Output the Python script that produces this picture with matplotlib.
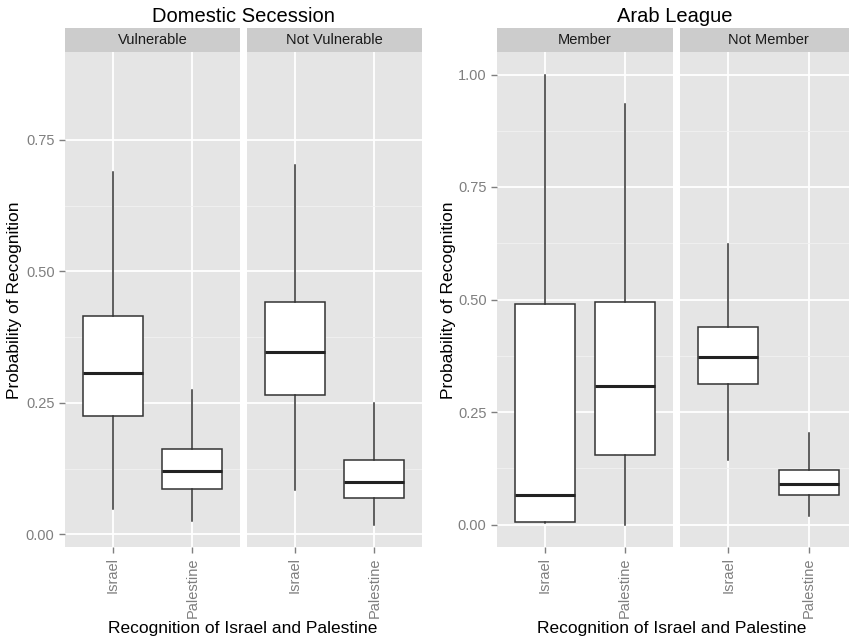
import matplotlib.pyplot as plt
import numpy as np

plt.rcParams['font.family'] = ['Liberation Sans', 'DejaVu Sans']

categories = ["Israel", "Palestine"]

# five-number summaries: whisker low, q1, median, q3, whisker high
dom_vulnerable = [[0.048, 0.225, 0.307, 0.416, 0.688],
                  [0.026, 0.087, 0.120, 0.162, 0.274]]
dom_not_vulnerable = [[0.084, 0.265, 0.347, 0.442, 0.703],
                      [0.018, 0.069, 0.100, 0.141, 0.250]]
arab_member = [[0.003, 0.006, 0.066, 0.489, 1.000],
               [0.000, 0.154, 0.307, 0.495, 0.935]]
arab_not_member = [[0.143, 0.312, 0.372, 0.438, 0.623],
                   [0.018, 0.066, 0.091, 0.122, 0.203]]

W, H = 849, 639
top, bot = 52, 547
strip_h = 24

fig = plt.figure(figsize=(W / 100, H / 100), dpi=100)

def px_axes(x0, x1, y0, y1):
    return fig.add_axes([x0 / W, 1 - y1 / H, (x1 - x0) / W, (y1 - y0) / H])

def draw_facet(ax, stats, strip, ylim, yticks, show_y):
    ax.set_facecolor("#e5e5e5")
    for s in ax.spines.values():
        s.set_visible(False)
    bxp = []
    for lo, q1, med, q3, hi in stats:
        bxp.append(dict(whislo=lo, q1=q1, med=med, q3=q3, whishi=hi, fliers=[]))
    ax.bxp(bxp, positions=[1, 2], widths=0.75, patch_artist=True, showcaps=False,
           boxprops=dict(facecolor="white", edgecolor="#333333", linewidth=1.1),
           medianprops=dict(color="#222222", linewidth=2.2),
           whiskerprops=dict(color="#333333", linewidth=1.1), zorder=3)
    ax.set_xlim(0.4, 2.6)
    ax.set_ylim(*ylim)
    minor = [(a + b) / 2 for a, b in zip(yticks[:-1], yticks[1:])]
    ax.set_yticks(yticks)
    ax.set_yticks(minor, minor=True)
    ax.grid(True, which="major", color="white", linewidth=1.3)
    ax.grid(True, which="minor", axis="y", color="#f2f2f2", linewidth=0.6)
    ax.set_axisbelow(True)
    ax.set_xticks([1, 2])
    ax.set_xticklabels(categories, rotation=90, color="#7f7f7f", fontsize=10.5)
    ax.tick_params(axis="both", which="major", length=4, color="#7f7f7f", width=1)
    ax.tick_params(axis="y", which="minor", length=0)
    if show_y:
        ax.set_yticklabels([f"{t:.2f}" for t in yticks], color="#7f7f7f", fontsize=10.5)
    else:
        ax.tick_params(axis="y", which="major", length=0, labelleft=False)
    sh = strip_h / (bot - top)
    ax.add_patch(plt.Rectangle((0, 1.0), 1, sh, transform=ax.transAxes,
                               facecolor="#cccccc", edgecolor="none", clip_on=False, zorder=0))
    ax.text(0.5, 1.0 + sh / 2, strip, transform=ax.transAxes, ha="center", va="center",
            fontsize=10.5, color="#1a1a1a")

ticks_l = [0.0, 0.25, 0.5, 0.75]
ylim_l = (-0.024, 0.917)
ticks_r = [0.0, 0.25, 0.5, 0.75, 1.0]
ylim_r = (-0.05, 1.05)

ax1 = px_axes(65, 240, top, bot)
ax2 = px_axes(247, 422, top, bot)
ax3 = px_axes(497, 673, top, bot)
ax4 = px_axes(680, 857, top, bot)

draw_facet(ax1, dom_vulnerable, "Vulnerable", ylim_l, ticks_l, True)
draw_facet(ax2, dom_not_vulnerable, "Not Vulnerable", ylim_l, ticks_l, False)
draw_facet(ax3, arab_member, "Member", ylim_r, ticks_r, True)
draw_facet(ax4, arab_not_member, "Not Member", ylim_r, ticks_r, False)

fig.text(243 / W, 1 - 16 / H, "Domestic Secession", ha="center", va="center", fontsize=14.5)
fig.text(675 / W, 1 - 16 / H, "Arab League", ha="center", va="center", fontsize=14.5)
fig.text(15 / W, 1 - 300 / H, "Probability of Recognition", rotation=90,
         ha="center", va="center", fontsize=12.5)
fig.text(449 / W, 1 - 300 / H, "Probability of Recognition", rotation=90,
         ha="center", va="center", fontsize=12.5)
fig.text(243 / W, 1 - 628 / H, "Recognition of Israel and Palestine",
         ha="center", va="center", fontsize=12.5)
fig.text(672 / W, 1 - 628 / H, "Recognition of Israel and Palestine",
         ha="center", va="center", fontsize=12.5)

fig.savefig("out.png", dpi=100)
